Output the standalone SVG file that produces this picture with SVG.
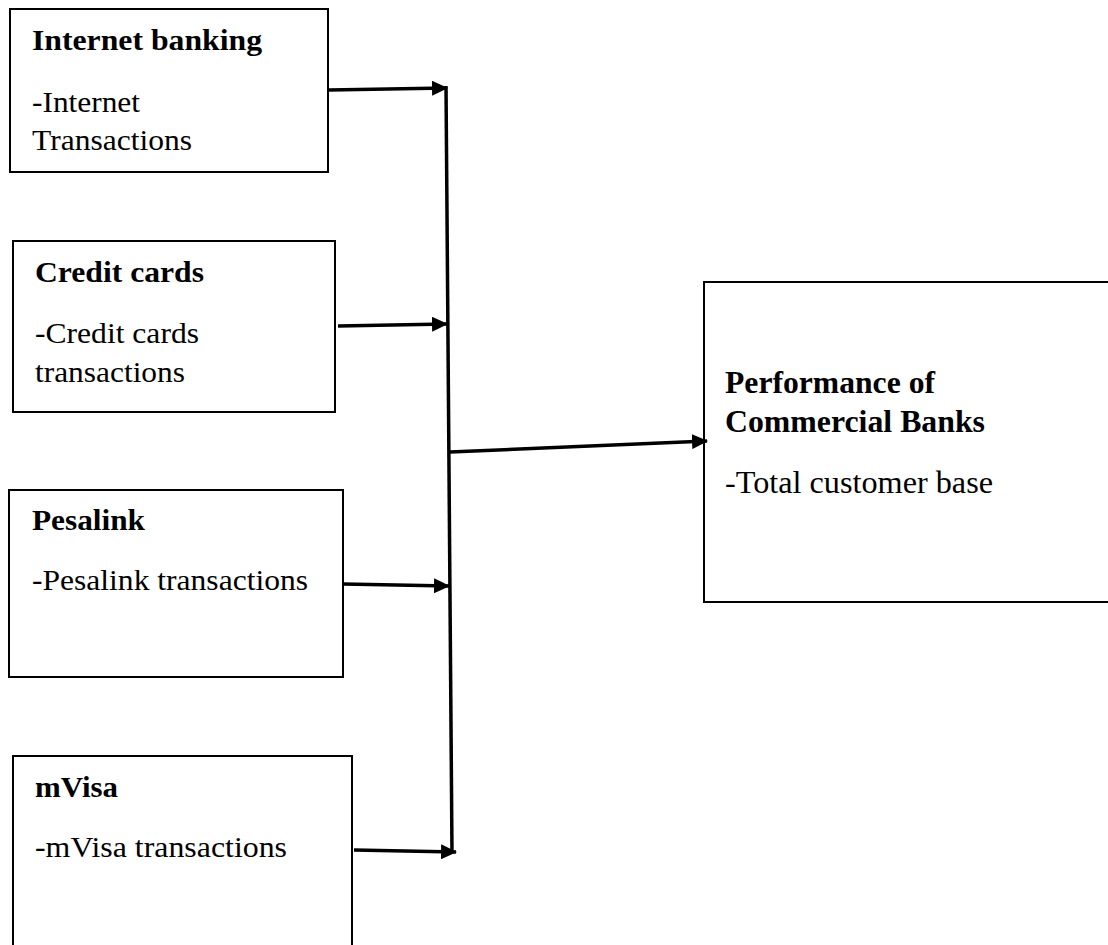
<svg xmlns="http://www.w3.org/2000/svg" width="1108" height="945" viewBox="0 0 1108 945">
<style>
.box{fill:#fff;stroke:#000;stroke-width:2}
.t{font-family:"Liberation Serif","Times New Roman",serif;font-size:30px;fill:#000}
.r{font-size:31px}
.b{font-weight:bold}
.c{stroke:#000;stroke-width:3.5;fill:none}
</style>
<defs>
<marker id="ah" viewBox="0 0 16 15" refX="15" refY="7.5" markerWidth="16" markerHeight="15" markerUnits="userSpaceOnUse" orient="auto">
<path d="M0,0 L16,7.5 L0,15 z" fill="#000"/>
</marker>
</defs>
<rect width="1108" height="945" fill="#fff"/>
<g id="node-internet">
<rect class="box" x="10" y="9" width="318" height="163"/>
<text class="t b" x="32" y="50" textLength="230" lengthAdjust="spacingAndGlyphs">Internet banking</text>
<text class="t" x="32" y="112" textLength="108" lengthAdjust="spacingAndGlyphs">-Internet</text>
<text class="t" x="32" y="150" textLength="160" lengthAdjust="spacingAndGlyphs">Transactions</text>
</g>
<g id="node-credit">
<rect class="box" x="13" y="241" width="322" height="171"/>
<text class="t b" x="35" y="282" textLength="169" lengthAdjust="spacingAndGlyphs">Credit cards</text>
<text class="t" x="35" y="343" textLength="164" lengthAdjust="spacingAndGlyphs">-Credit cards</text>
<text class="t" x="35" y="382" textLength="150" lengthAdjust="spacingAndGlyphs">transactions</text>
</g>
<g id="node-pesalink">
<rect class="box" x="9" y="490" width="334" height="187"/>
<text class="t b" x="32" y="530" textLength="113" lengthAdjust="spacingAndGlyphs">Pesalink</text>
<text class="t" x="32" y="590" textLength="276" lengthAdjust="spacingAndGlyphs">-Pesalink transactions</text>
</g>
<g id="node-mvisa">
<path class="box" d="M13,960 L13,756 L352,756 L352,960"/>
<text class="t b" x="35" y="797" textLength="83" lengthAdjust="spacingAndGlyphs">mVisa</text>
<text class="t" x="35" y="857" textLength="252" lengthAdjust="spacingAndGlyphs">-mVisa transactions</text>
</g>
<g id="node-performance">
<rect class="box" x="704" y="282" width="420" height="320"/>
<text class="t r b" x="725" y="393" textLength="210" lengthAdjust="spacingAndGlyphs">Performance of</text>
<text class="t r b" x="725" y="432" textLength="260" lengthAdjust="spacingAndGlyphs">Commercial Banks</text>
<text class="t r" x="725" y="493" textLength="268" lengthAdjust="spacingAndGlyphs">-Total customer base</text>
</g>
<g id="connectors">
<line class="c" x1="446" y1="86" x2="452" y2="853"/>
<line class="c" x1="329" y1="90" x2="447" y2="88" marker-end="url(#ah)"/>
<line class="c" x1="338" y1="326" x2="447" y2="324" marker-end="url(#ah)"/>
<line class="c" x1="343" y1="584" x2="449" y2="586" marker-end="url(#ah)"/>
<line class="c" x1="354" y1="850" x2="456" y2="852" marker-end="url(#ah)"/>
<line class="c" x1="450" y1="452" x2="707" y2="441" marker-end="url(#ah)"/>
</g>
</svg>
